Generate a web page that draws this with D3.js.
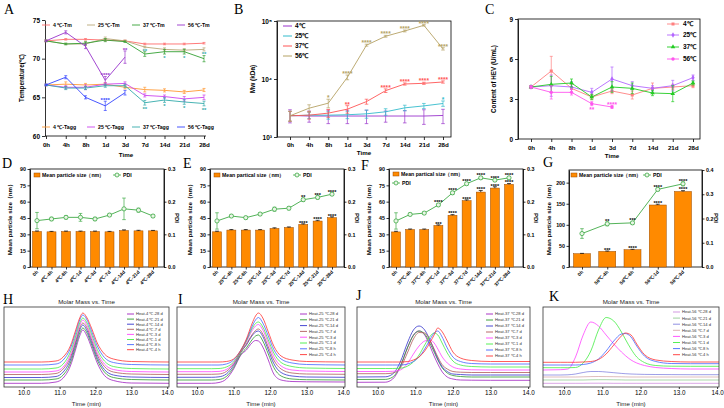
<!DOCTYPE html>
<meta charset="utf-8">
<script src="https://d3js.org/d3.v7.min.js"></script>
<style>
  body { margin: 0; background: #fff; }
  .letter { font-family: 'Liberation Serif', 'DejaVu Serif', serif; font-size: 14px; }
</style>
<svg id="fig" width="724" height="408"></svg>
<script>
// ---------- data ----------
const times = ["0h", "4h", "8h", "1d", "3d", "7d", "14d", "21d", "28d"];

// A: melting / aggregation temperatures
const tm4 = [72.3, 72.5, 72.5, 72.4, 72.3, 71.9, 71.9, 71.9, 72.0];
const tm25 = [72.3, 71.9, 71.9, 72.6, 72.3, 71.5, 71.2, 71.1, 71.2];
const tm37 = [72.3, 71.9, 72.0, 72.4, 72.2, 70.6, 70.9, 70.9, 70.0];
const tm56 = [72.3, 73.4, 71.6, 67.2, 70.2];
const tagg4 = [66.6, 66.7, 66.6, 66.7, 66.3, 66.0, 65.9, 65.7, 65.95];
const tagg25 = [66.6, 66.3, 66.3, 66.7, 66.8, 65.25, 65.1, 64.8, 65.0];
const tagg37 = [66.6, 66.2, 66.2, 66.5, 66.5, 64.3, 64.65, 64.4, 64.2];
const tagg56 = [66.6, 67.6, 65.0, 63.9, 65.6];
const tm4Err = [0.1, 0.1, 0.1, 0.1, 0.1, 0.1, 0.1, 0.1, 0.1];
const tm25Err = [0.1, 0.1, 0.2, 0.2, 0.1, 0.1, 0.2, 0.2, 0.2];
const tm37Err = [0.1, 0.1, 0.2, 0.2, 0.1, 0.3, 0.3, 0.3, 0.4];
const tm56Err = [0.1, 0.2, 0.3, 0.5, 0.8];
const tagg4Err = [0.1, 0.3, 0.2, 0.2, 0.2, 0.3, 0.2, 0.2, 0.2];
const tagg25Err = [0.1, 0.2, 0.3, 0.2, 0.2, 0.2, 0.2, 0.3, 0.3];
const tagg37Err = [0.1, 0.2, 0.2, 0.2, 0.2, 0.3, 0.3, 0.3, 0.3];
const tagg56Err = [0.1, 0.2, 0.2, 0.6, 0.3];
const annTm37 = [[5, "**", "a"], [6, "*", "b"], [7, "*", "b"], [8, "**", "a"]];
const annTm56 = [[3, "****", "a"], [4, "**", "a"]];
const annTagg37 = [[5, "**", "b"], [6, "*", "b"], [7, "*", "b"], [8, "**", "b"]];
const annTagg56 = [[3, "****", "a"]];

// B: molecular weight (kDa)
const mw4 = [2350, 2300, 2300, 2300, 2300, 2300, 2300, 2300, 2350];
const mw25 = [2320, 2380, 2380, 2420, 2510, 2720, 3180, 3440, 3780];
const mw37 = [2320, 2380, 2580, 3020, 4080, 6300, 8200, 8430, 8880];
const mw56 = [2320, 3140, 3830, 10700, 38300, 54600, 67400, 84300, 33100];
const mw4Err = [600, 500, 600, 600, 600, 500, 550, 650, 650];
const mw25Err = [450, 300, 350, 350, 400, 350, 350, 350, 400];
const mw37Err = [450, 350, 400, 450, 400, 450, 350, 350, 400];
const mw56Err = [450, 450, 650, 1000, 1500, 2000, 2500, 2500, 1500];
const annMw25 = [[8, "*"]];
const annMw37 = [[3, "**"], [5, "****"], [6, "****"], [7, "****"], [8, "****"]];
const annMw56 = [[2, "*"], [3, "****"], [4, "****"], [5, "****"], [6, "****"], [7, "****"], [8, "****"]];

// C: HEV content (U/mL)
const hev4 = [3.9, 5.1, 3.8, 3.15, 3.6, 3.3, 3.8, 3.9, 4.0];
const hev25 = [3.9, 4.0, 3.9, 3.5, 4.5, 4.0, 3.8, 4.0, 4.6];
const hev37 = [3.9, 4.1, 4.2, 3.15, 3.9, 3.8, 3.45, 3.4, 4.2];
const hev56 = [3.9, 3.5, 3.5, 2.65, 2.4];
const hev4Err = [0.1, 1.1, 0.3, 0.2, 0.2, 0.3, 0.4, 0.2, 0.15];
const hev25Err = [0.1, 0.8, 0.4, 0.3, 0.9, 0.3, 0.2, 0.4, 0.2];
const hev37Err = [0.1, 0.6, 0.3, 0.2, 0.4, 0.4, 0.2, 0.6, 0.15];
const hev56Err = [0.1, 0.5, 0.2, 0.15, 0.1];
const annHev56 = [[3, "**", "b"], [4, "****", "a"]];

// D-G: particle size and PDI
const catD = ["0h", "4℃-4h", "4℃-8h", "4℃-1d", "4℃-3d", "4℃-7d", "4℃-14d", "4℃-21d", "4℃-28d"];
const catE = ["0h", "25℃-4h", "25℃-8h", "25℃-1d", "25℃-3d", "25℃-7d", "25℃-14d", "25℃-21d", "25℃-28d"];
const catF = ["0h", "37℃-4h", "37℃-8h", "37℃-1d", "37℃-3d", "37℃-7d", "37℃-14d", "37℃-21d", "37℃-28d"];
const catG = ["0h", "56℃-4h", "56℃-8h", "56℃-1d", "56℃-3d"];
const sizeD = [32.6, 32.3, 32.6, 32.6, 32.6, 32.3, 33.5, 33.2, 33.2];
const sizeE = [32.3, 33.9, 33.9, 33.9, 35.4, 36.3, 39.1, 42.2, 45.3];
const sizeF = [32.2, 34.4, 34.4, 38.1, 47.5, 60.9, 68.8, 72.5, 75.9];
const sizeG = [31.5, 37, 41, 147, 179];
const sizeDErr = [0.5, 0.4, 0.4, 0.4, 0.4, 0.4, 0.6, 0.5, 0.4];
const sizeEErr = [0.6, 0.5, 0.5, 0.5, 0.6, 0.5, 0.6, 0.7, 0.8];
const sizeFErr = [0.6, 0.5, 0.5, 0.6, 0.6, 0.8, 1.5, 1.2, 0.8];
const sizeGErr = [0.8, 1, 1, 2, 2];
const pdiD = [0.142, 0.147, 0.152, 0.152, 0.147, 0.159, 0.178, 0.174, 0.156];
const pdiE = [0.141, 0.156, 0.151, 0.162, 0.177, 0.180, 0.206, 0.213, 0.223];
const pdiF = [0.141, 0.161, 0.165, 0.190, 0.227, 0.255, 0.273, 0.266, 0.273];
const pdiG = [0.138, 0.178, 0.182, 0.320, 0.343];
const pdiDErr = [0.025, 0.005, 0.005, 0.012, 0.005, 0.004, 0.033, 0.006, 0.004];
const pdiEErr = [0.025, 0.004, 0.004, 0.004, 0.006, 0.005, 0.005, 0.005, 0.004];
const pdiFErr = [0.025, 0.004, 0.004, 0.004, 0.005, 0.004, 0.004, 0.004, 0.004];
const pdiGErr = [0.02, 0.008, 0.006, 0.006, 0.008];
const barAnnE = [[6, "****"], [7, "****"], [8, "****"]];
const pdiAnnE = [[6, "**"], [7, "***"], [8, "****"]];
const barAnnF = [[3, "***"], [4, "****"], [5, "****"], [6, "****"], [7, "****"], [8, "****"]];
const pdiAnnF = [[3, "****"], [4, "****"], [5, "****"], [6, "****"], [7, "****"], [8, "****"]];
const barAnnG = [[1, "***"], [2, "****"], [3, "****"], [4, "****"]];
const pdiAnnG = [[1, "**"], [2, "***"], [3, "****"], [4, "****"]];

// H-K: chromatograms, order 28d, 21d, 14d, 7d, 3d, 1d, 8h, 4h
const chromKeys = ["28 d", "21 d", "14 d", "7 d", "3 d", "1 d", "8 h", "4 h"];
const tH = [9.45, 10.5, 10.9, 11.1, 11.3, 11.45, 11.55, 11.65, 11.75, 11.9, 12.05, 12.25, 12.5, 13.0, 14.05];
const sigH = [
  [3.7, 3.7, 5, 9, 21, 38, 50, 57, 52, 38.5, 24, 11.5, 6.5, 4, 3.7],
  [7, 7, 8, 12, 24, 41, 53, 59, 55, 41.5, 27, 15, 9.5, 7.5, 7],
  [9.5, 9.5, 10.5, 15, 27, 44, 56, 62, 57.5, 44, 29.5, 17.5, 12, 10, 9.5],
  [12.5, 12.5, 13.5, 18, 29.5, 46, 58, 64, 60, 46.5, 32, 20.5, 15, 13, 12.5],
  [15, 15, 16, 20, 32, 48.5, 60.5, 67, 62.5, 49, 34.5, 23, 17.5, 15.5, 15],
  [18, 18, 19, 23, 35, 51, 63, 69, 65, 52, 37.5, 26, 20.5, 18.5, 18],
  [22, 22, 23, 27, 38.5, 54.5, 66, 72, 68, 55, 41, 29.5, 24.5, 22.5, 22],
  [25, 25, 26, 30, 41, 57, 68, 74, 70, 58, 44, 33, 28, 25.5, 25]
];
const tI = [9.45, 10.4, 10.6, 10.8, 11.0, 11.2, 11.35, 11.5, 11.6, 11.68, 11.8, 11.95, 12.1, 12.3, 12.6, 13.0, 14.05];
const sigI = [
  [3.7, 3.7, 4.5, 8, 18, 32, 37, 44, 46.5, 46, 40, 27, 13, 7, 5.5, 5.2, 5],
  [7, 7, 7.5, 10.5, 19.5, 33, 39, 47, 51, 52, 46, 33, 19.5, 11, 8, 7.3, 7],
  [9.7, 9.7, 10.2, 13, 21.5, 35, 42, 51, 55, 56, 50.5, 37, 23.5, 14.5, 11, 10, 9.7],
  [12.7, 12.7, 13, 15.5, 23, 35, 43, 52, 56.5, 58, 53, 40, 27, 18, 14, 13, 12.7],
  [15.3, 15.3, 15.6, 17.5, 24, 36, 45, 56, 61, 62.5, 57, 44, 30.5, 21, 17, 16, 15.5],
  [18.3, 18.3, 18.5, 20, 25, 36, 46, 58, 63.5, 65, 60, 47, 34, 24.5, 20.5, 19, 18.5],
  [22, 22, 22, 23, 27, 37, 47, 60, 67, 69.5, 64, 51, 37.5, 28, 24, 22.5, 22],
  [25, 25, 25, 25.5, 28, 37, 48, 63, 71, 74, 69, 55, 41, 31, 27, 25.5, 25]
];
const tJ = [9.45, 10.2, 10.4, 10.6, 10.8, 10.95, 11.1, 11.25, 11.4, 11.5, 11.6, 11.7, 11.85, 12.0, 12.2, 12.5, 13.0, 14.05];
const sigJ = [
  [4.7, 4.8, 8, 20, 40, 52, 56, 52, 40, 31, 23, 16, 10, 8, 7, 6.8, 6.7, 6.7],
  [7.5, 7.6, 10, 21, 40, 51.5, 56, 53, 43, 35, 27, 20, 14, 11.5, 10.5, 10, 10, 10],
  [10, 10.2, 13, 25, 45, 57, 61, 57, 46, 37, 28, 21, 15.5, 13, 12.5, 12, 12, 12],
  [13.3, 13.3, 14, 19, 35, 48, 54.5, 54, 46, 38, 30, 23, 18, 15.5, 14.8, 14.5, 14.5, 14.5],
  [15.5, 15.5, 15.7, 17, 24, 33, 41, 46, 47, 44, 38, 31, 24, 20, 18, 17.2, 17, 17],
  [18.5, 18.5, 18.5, 18.8, 21, 25, 32, 42, 51, 54, 52, 45, 34, 26, 22, 20.5, 20, 20],
  [22, 22, 22, 22, 23, 25.5, 30, 38, 48, 54, 56, 51, 39, 30, 25.5, 23.5, 23, 23],
  [25, 25, 25, 25, 25.5, 27, 30, 36, 45, 52, 59, 56, 46, 35, 29, 26.5, 25.5, 25.5]
];
const tK = [9.45, 9.9, 10.1, 10.3, 10.5, 10.7, 10.9, 11.1, 11.3, 11.5, 11.6, 11.75, 11.9, 12.1, 12.4, 12.8, 13.3, 14.05];
const sigK = [
  [3.7, 3.7, 3.7, 3.7, 3.7, 3.8, 3.8, 3.8, 3.7, 3.7, 3.7, 3.7, 3.7, 3.7, 3.7, 3.7, 3.7, 3.7],
  [7, 7, 7, 7, 7, 7.2, 7.3, 7.3, 7.2, 7.1, 7, 7, 7, 7, 7, 7, 7, 7],
  [12, 12, 12.2, 13, 14.5, 15.5, 15.5, 15, 14.3, 13.6, 13.3, 13, 12.8, 12.6, 12.5, 12.4, 12.3, 12.3],
  [10, 10, 10, 10, 10.2, 10.4, 10.5, 10.4, 10.3, 10.2, 10.1, 10, 10, 10, 10, 10, 10, 10],
  [17, 17.3, 18, 30, 52, 65, 61, 52, 43, 35, 31.5, 27, 24, 21.5, 19.5, 18.5, 18, 18],
  [19.3, 19.3, 19.3, 19.5, 24, 36, 57, 69.5, 66, 55, 48, 38, 30, 24.5, 21.5, 20.8, 20.7, 20.7],
  [22, 22, 22, 22, 22.5, 24, 28, 36, 46, 53, 53.5, 50, 41, 31, 25.5, 23.5, 23.3, 23.3],
  [24.7, 24.7, 24.7, 24.7, 25, 25.5, 27.5, 33, 42, 51, 54, 52, 43, 32.5, 27, 25.5, 25, 25]
];
const chromColors = ["#a020c0", "#2e9a2e", "#3333cc", "#b05a5a", "#ff44ff", "#44ee44", "#4466ff", "#ff3333"];

// ---------- helpers ----------
const svg = d3.select("#fig");
const FONT = "'Liberation Sans', Arial, sans-serif";

function txt(g, x, y, s, fs, opt = {}) {
  const t = g.append("text").attr("x", x).attr("y", y).attr("font-size", fs)
    .attr("font-family", FONT)
    .attr("font-weight", opt.bold === false ? "normal" : "bold")
    .attr("text-anchor", opt.anchor || "start")
    .attr("fill", opt.fill || "#000").text(s);
  if (opt.rotate) t.attr("transform", `rotate(${opt.rotate},${x},${y})`);
  return t;
}

function styleAxis(g, fs, bold) {
  g.attr("font-size", fs).attr("font-family", FONT).attr("font-weight", bold ? "bold" : "normal");
  g.selectAll("path, line").attr("stroke", "#000").attr("stroke-width", 0.8);
  g.selectAll("text").attr("fill", "#000");
}

function errBars(g, x, y, keys, vals, errs, color, cap) {
  vals.forEach((v, i) => {
    const cx = x(keys[i]), y1 = y(v - errs[i]), y2 = y(v + errs[i]);
    g.append("line").attr("x1", cx).attr("x2", cx).attr("y1", y1).attr("y2", y2)
      .attr("stroke", color).attr("stroke-width", 0.7);
    [y1, y2].forEach(yy => g.append("line").attr("x1", cx - cap).attr("x2", cx + cap)
      .attr("y1", yy).attr("y2", yy).attr("stroke", color).attr("stroke-width", 0.7));
  });
}

function linePath(g, x, y, keys, vals, color, w) {
  g.append("path").datum(vals)
    .attr("d", d3.line().x((d, i) => x(keys[i])).y(d => y(d)))
    .attr("fill", "none").attr("stroke", color).attr("stroke-width", w);
}

function stars(g, x, y, keys, vals, errs, list, color, fs) {
  list.forEach(([i, s, pos]) => {
    const cx = x(keys[i]);
    const yy = pos === "b" ? y(vals[i] - errs[i]) + fs * 0.95 : y(vals[i] + errs[i]) + fs * 0.15;
    txt(g, cx, yy, s, fs, { anchor: "middle", fill: color });
  });
}

function letter(s, x, y) {
  svg.append("text").attr("class", "letter").attr("x", x).attr("y", y).text(s);
}

// ---------- A ----------
{
  const g = svg.append("g");
  const x = d3.scalePoint().domain(times).range([46, 204]);
  const y = d3.scaleLinear().domain([60, 75]).range([136, 20]);
  const al = g.append("g").attr("transform", "translate(45,0)")
    .call(d3.axisLeft(y).tickValues([60, 65, 70, 75]).tickSize(3).tickSizeOuter(0).tickPadding(2));
  styleAxis(al, 6.5, true);
  const ab = g.append("g").attr("transform", "translate(0,136)")
    .call(d3.axisBottom(x).tickSize(3).tickPadding(4));
  ab.select(".domain").remove();
  styleAxis(ab, 6.2, true);
  g.append("line").attr("x1", 45).attr("x2", 206).attr("y1", 136).attr("y2", 136).attr("stroke", "#000").attr("stroke-width", 0.8);
  txt(g, 126, 157, "Time", 6.2, { anchor: "middle" });
  txt(g, 24, 78, "Temperature(℃)", 6.3, { anchor: "middle", rotate: -90 });

  const ser = [
    [tm4, tm4Err, "#ff6b6b", "4 ℃-Tm"], [tm25, tm25Err, "#b9a878", "25 ℃-Tm"],
    [tm37, tm37Err, "#33a033", "37 ℃-Tm"], [tm56, tm56Err, "#9933cc", "56 ℃-Tm"],
    [tagg4, tagg4Err, "#ff9933", "4 ℃-Tagg"], [tagg25, tagg25Err, "#cc44ee", "25 ℃-Tagg"],
    [tagg37, tagg37Err, "#33aaaa", "37 ℃-Tagg"], [tagg56, tagg56Err, "#3344ff", "56 ℃-Tagg"]
  ];
  ser.forEach(([v, e, c]) => { errBars(g, x, y, times, v, e, c, 1.5); linePath(g, x, y, times, v, c, 0.9); });
  stars(g, x, y, times, tm37, tm37Err, annTm37, "#33aaaa", 6);
  stars(g, x, y, times, tm56, tm56Err, annTm56, "#9933cc", 6);
  stars(g, x, y, times, tagg37, tagg37Err, annTagg37, "#33aaaa", 6);
  stars(g, x, y, times, tagg56, tagg56Err, annTagg56, "#3344ff", 6);
  const lx = [42, 87, 132, 177];
  ser.forEach(([, , c, name], i) => {
    const yy = i < 4 ? 25 : 127, x0 = lx[i % 4];
    g.append("line").attr("x1", x0).attr("x2", x0 + 8).attr("y1", yy).attr("y2", yy).attr("stroke", c).attr("stroke-width", 0.9);
    txt(g, x0 + 11, yy + 2, name, 5.2);
  });
}

// ---------- B ----------
{
  const g = svg.append("g");
  const x = d3.scalePoint().domain(times).range([290, 443]);
  const y = d3.scaleLog().domain([1000, 100000]).range([137, 21]);
  g.append("rect").attr("x", 277).attr("y", 21).attr("width", 174).attr("height", 116)
    .attr("fill", "none").attr("stroke", "#000").attr("stroke-width", 0.8);
  const sup = { 1000: "10³", 10000: "10⁴", 100000: "10⁵" };
  const al = g.append("g").attr("transform", "translate(277,0)")
    .call(d3.axisLeft(y).tickValues([1000, 10000, 100000]).tickFormat(d => sup[d]).tickSize(3).tickSizeOuter(0).tickPadding(2));
  styleAxis(al, 6.5, true);
  const ab = g.append("g").attr("transform", "translate(0,137)")
    .call(d3.axisBottom(x).tickSize(3).tickPadding(3));
  ab.select(".domain").remove();
  styleAxis(ab, 6.2, true);
  txt(g, 364, 155, "Time", 6.2, { anchor: "middle" });
  txt(g, 255, 79, "Mw (kDa)", 6.5, { anchor: "middle", rotate: -90 });
  const ser = [[mw4, mw4Err, "#9933cc", "4℃"], [mw25, mw25Err, "#33bbcc", "25℃"],
               [mw37, mw37Err, "#ff5555", "37℃"], [mw56, mw56Err, "#b5a264", "56℃"]];
  ser.forEach(([v, e, c]) => { errBars(g, x, y, times, v, e, c, 1.8); linePath(g, x, y, times, v, c, 0.9); });
  stars(g, x, y, times, mw25, mw25Err, annMw25, "#33bbcc", 6.5);
  stars(g, x, y, times, mw37, mw37Err, annMw37, "#ff5555", 6.5);
  stars(g, x, y, times, mw56, mw56Err, annMw56, "#b5a264", 6.5);
  const ly = [26, 36, 46, 56];
  ser.forEach(([, , c, name], i) => {
    g.append("line").attr("x1", 283).attr("x2", 292).attr("y1", ly[i]).attr("y2", ly[i]).attr("stroke", c).attr("stroke-width", 1);
    txt(g, 295, ly[i] + 2.3, name, 6.5);
  });
}

// ---------- C ----------
{
  const g = svg.append("g");
  const x = d3.scalePoint().domain(times).range([531, 693]);
  const y = d3.scaleLinear().domain([0, 9]).range([139, 19]);
  g.append("rect").attr("x", 518).attr("y", 19).attr("width", 182).attr("height", 120)
    .attr("fill", "none").attr("stroke", "#000").attr("stroke-width", 0.8);
  const al = g.append("g").attr("transform", "translate(518,0)")
    .call(d3.axisLeft(y).tickValues([0, 3, 6, 9]).tickSize(3).tickSizeOuter(0).tickPadding(2));
  styleAxis(al, 6.5, true);
  const ab = g.append("g").attr("transform", "translate(0,139)")
    .call(d3.axisBottom(x).tickSize(3).tickPadding(4));
  ab.select(".domain").remove();
  styleAxis(ab, 6.2, true);
  txt(g, 612, 158, "Time", 6.2, { anchor: "middle" });
  txt(g, 496, 79, "Content of HEV (U/mL)", 6.3, { anchor: "middle", rotate: -90 });
  const ser = [[hev4, hev4Err, "#ff8080", "4℃", d3.symbolSquare], [hev25, hev25Err, "#b366ff", "25℃", d3.symbolDiamond],
               [hev37, hev37Err, "#22cc22", "37℃", d3.symbolTriangle], [hev56, hev56Err, "#ff55ee", "56℃", d3.symbolCircle]];
  ser.forEach(([v, e, c, , sym]) => {
    errBars(g, x, y, times, v, e, c, 1.5);
    linePath(g, x, y, times, v, c, 0.9);
    g.selectAll(null).data(v).join("path")
      .attr("d", d3.symbol().type(sym).size(9))
      .attr("transform", (d, i) => `translate(${x(times[i])},${y(d)})`).attr("fill", c);
  });
  stars(g, x, y, times, hev56, hev56Err, annHev56, "#ff55ee", 6.5);
  const ly = [24, 35, 47, 59];
  ser.forEach(([, , c, name, sym], i) => {
    g.append("line").attr("x1", 667).attr("x2", 679).attr("y1", ly[i]).attr("y2", ly[i]).attr("stroke", c).attr("stroke-width", 0.9);
    g.append("path").attr("d", d3.symbol().type(sym).size(9)).attr("transform", `translate(673,${ly[i]})`).attr("fill", c);
    txt(g, 683, ly[i] + 2.3, name, 6.5);
  });
}

// ---------- D-G ----------
function barPanel(p) {
  const g = svg.append("g");
  const x = d3.scalePoint().domain(p.cats).range(p.centers);
  const yL = d3.scaleLinear().domain([0, p.yMax]).range([p.bottom, p.top]);
  const yR = d3.scaleLinear().domain([0, p.pMax]).range([p.bottom, p.top]);
  g.append("rect").attr("x", p.left).attr("y", p.top).attr("width", p.right - p.left).attr("height", p.bottom - p.top)
    .attr("fill", "none").attr("stroke", "#000").attr("stroke-width", 0.8);
  const al = g.append("g").attr("transform", `translate(${p.left},0)`)
    .call(d3.axisLeft(yL).tickValues(p.yTicks).tickSize(2.5).tickSizeOuter(0).tickPadding(1.5));
  styleAxis(al, 5.3, true);
  const ar = g.append("g").attr("transform", `translate(${p.right},0)`)
    .call(d3.axisRight(yR).tickValues(p.pTicks).tickFormat(d3.format(".1f")).tickSize(2.5).tickSizeOuter(0).tickPadding(1.5));
  styleAxis(ar, 5.3, true);
  const ab = g.append("g").attr("transform", `translate(0,${p.bottom})`)
    .call(d3.axisBottom(x).tickSize(2.5).tickFormat(""));
  ab.select(".domain").remove();
  styleAxis(ab, 5, true);
  p.cats.forEach(c => txt(g, x(c) + 1.5, p.bottom + 5.5, c, 4.8, { anchor: "end", rotate: -45 }));

  g.selectAll(null).data(p.sizes).join("rect")
    .attr("x", (d, i) => x(p.cats[i]) - p.barW / 2).attr("y", d => yL(d))
    .attr("width", p.barW).attr("height", d => p.bottom - yL(d))
    .attr("fill", "#ff8a00").attr("stroke", "#9a4a00").attr("stroke-width", 0.5);
  p.sizes.forEach((v, i) => {
    const cx = x(p.cats[i]);
    g.append("line").attr("x1", cx).attr("x2", cx).attr("y1", yL(v)).attr("y2", yL(v + p.sizeErr[i])).attr("stroke", "#000").attr("stroke-width", 0.7);
    g.append("line").attr("x1", cx - 2).attr("x2", cx + 2).attr("y1", yL(v + p.sizeErr[i])).attr("y2", yL(v + p.sizeErr[i])).attr("stroke", "#000").attr("stroke-width", 0.7);
  });
  const green = "#3faa46";
  errBars(g, x, yR, p.cats, p.pdi, p.pdiErr, green, 1.8);
  linePath(g, x, yR, p.cats, p.pdi, green, 0.9);
  g.selectAll(null).data(p.pdi).join("circle")
    .attr("cx", (d, i) => x(p.cats[i])).attr("cy", d => yR(d)).attr("r", 2.1)
    .attr("fill", "#eaf6e6").attr("stroke", green).attr("stroke-width", 0.8);
  stars(g, x, yL, p.cats, p.sizes, p.sizeErr, p.barAnn, "#000", 5.5);
  stars(g, x, yR, p.cats, p.pdi, p.pdiErr, p.pdiAnn, "#000", 5.5);

  txt(g, p.ylx, 218, "Mean particle size（nm）", 6.2, { anchor: "middle", rotate: -90 });
  txt(g, p.yrx, 218, "PDI", 6, { anchor: "middle", rotate: 90 });
  const [lgx, lgy] = p.lg;
  g.append("rect").attr("x", lgx).attr("y", lgy - 4).attr("width", 6).attr("height", 4)
    .attr("fill", "#ff8a00").attr("stroke", "#9a4a00").attr("stroke-width", 0.5);
  txt(g, lgx + 8, lgy, p.sizeName, 5.2);
  const [px, py] = p.lgPdi;
  g.append("line").attr("x1", px - 4).attr("x2", px + 4).attr("y1", py - 2).attr("y2", py - 2).attr("stroke", green).attr("stroke-width", 0.8);
  g.append("circle").attr("cx", px).attr("cy", py - 2).attr("r", 2).attr("fill", "#eaf6e6").attr("stroke", green).attr("stroke-width", 0.8);
  txt(g, px + 6, py, "PDI", 5.2);
}

barPanel({ cats: catD, sizes: sizeD, sizeErr: sizeDErr, pdi: pdiD, pdiErr: pdiDErr, barAnn: [], pdiAnn: [],
  left: 30, right: 164, top: 169, bottom: 267, centers: [37, 153], barW: 9, yMax: 90, pMax: 0.3,
  yTicks: [0, 15, 30, 45, 60, 75, 90], pTicks: [0, 0.1, 0.2, 0.3], ylx: 12, yrx: 175,
  lg: [34, 177], lgPdi: [117, 177], sizeName: "Mean particle size（nm）" });
barPanel({ cats: catE, sizes: sizeE, sizeErr: sizeEErr, pdi: pdiE, pdiErr: pdiEErr, barAnn: barAnnE, pdiAnn: pdiAnnE,
  left: 210, right: 344, top: 169, bottom: 267, centers: [217, 332], barW: 9, yMax: 90, pMax: 0.3,
  yTicks: [0, 15, 30, 45, 60, 75, 90], pTicks: [0, 0.1, 0.2, 0.3], ylx: 192, yrx: 355,
  lg: [214, 177], lgPdi: [297, 177], sizeName: "Mean partical size（nm）" });
barPanel({ cats: catF, sizes: sizeF, sizeErr: sizeFErr, pdi: pdiF, pdiErr: pdiFErr, barAnn: barAnnF, pdiAnn: pdiAnnF,
  left: 389, right: 523, top: 169, bottom: 267, centers: [396, 509], barW: 9, yMax: 90, pMax: 0.3,
  yTicks: [0, 15, 30, 45, 60, 75, 90], pTicks: [0, 0.1, 0.2, 0.3], ylx: 371, yrx: 534,
  lg: [393, 176], lgPdi: [396, 185], sizeName: "Mean partical size（nm）" });
barPanel({ cats: catG, sizes: sizeG, sizeErr: sizeGErr, pdi: pdiG, pdiErr: pdiGErr, barAnn: barAnnG, pdiAnn: pdiAnnG,
  left: 569, right: 702, top: 170, bottom: 267, centers: [582, 683], barW: 17, yMax: 230, pMax: 0.4,
  yTicks: [0, 50, 100, 150, 200], pTicks: [0, 0.1, 0.2, 0.3, 0.4], ylx: 551, yrx: 714,
  lg: [571, 177], lgPdi: [647, 177], sizeName: "Mean particle size（nm）" });

// ---------- H-K ----------
function chrom(left, right, tt, sig, temp, fade, lg, spacing) {
  const g = svg.append("g");
  const x = d3.scaleLinear().domain([9.45, 14.05]).range([left, right]);
  const y = d3.scaleLinear().domain([0, 80]).range([387, 307]);
  const ab = g.append("g").attr("transform", "translate(0,387)")
    .call(d3.axisBottom(x).tickValues([10, 11, 12, 13, 14]).tickFormat(d3.format(".1f")).tickSize(2).tickPadding(2));
  ab.select(".domain").remove();
  styleAxis(ab, 6.3, false);
  const line = d3.line().x((d, i) => x(tt[i])).y(d => y(d)).curve(d3.curveMonotoneX);
  sig.forEach((s, k) => g.append("path").datum(s).attr("d", line).attr("fill", "none")
    .attr("stroke", chromColors[k]).attr("stroke-width", 0.8).attr("opacity", fade[k]));
  g.append("rect").attr("x", left).attr("y", 307).attr("width", right - left).attr("height", 80)
    .attr("fill", "none").attr("stroke", "#333").attr("stroke-width", 0.8);
  txt(g, (left + right) / 2, 304, "Molar Mass vs. Time", 6.2, { anchor: "middle", bold: false, fill: "#222" });
  txt(g, (left + right) / 2, 406, "Time (min)", 6.2, { anchor: "middle", bold: false, fill: "#222" });
  chromKeys.forEach((kname, k) => {
    const yy = lg[1] + k * spacing;
    g.append("line").attr("x1", lg[0]).attr("x2", lg[0] + 7).attr("y1", yy).attr("y2", yy)
      .attr("stroke", chromColors[k]).attr("stroke-width", 0.9).attr("opacity", fade[k]);
    txt(g, lg[0] + 9, yy + 1.4, `Heat-${temp} ℃-${kname}`, 4.1, { bold: false, fill: "#333" });
  });
}
const full = [1, 1, 1, 1, 1, 1, 1, 1];
chrom(4, 169, tH, sigH, "4", full, [127, 314], 5.1);
chrom(177, 345, tI, sigI, "25", full, [300, 314], 5.8);
chrom(357, 530, tJ, sigJ, "37", full, [486, 314], 6.0);
chrom(543, 719, tK, sigK, "56", [0.5, 0.5, 0.6, 0.5, 1, 1, 1, 1], [673, 312], 6.1);

// ---------- panel letters ----------
letter("A", 4, 14); letter("B", 234, 14); letter("C", 485, 14);
letter("D", 2, 168); letter("E", 183, 168); letter("F", 361, 170); letter("G", 543, 167);
letter("H", 3, 304); letter("I", 178, 304); letter("J", 356, 300); letter("K", 549, 301);
</script>
